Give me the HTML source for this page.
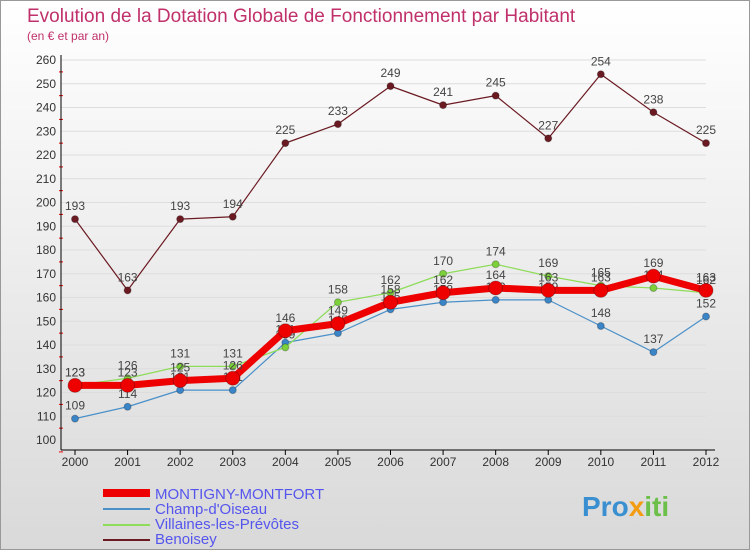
<!DOCTYPE html>
<html><head><meta charset="utf-8"><style>
body{margin:0;width:750px;height:550px;overflow:hidden;font-family:"Liberation Sans",sans-serif}
svg{display:block}
</style></head><body>
<svg id="c" width="750" height="550">
<defs><linearGradient id="bg" x1="0" y1="0" x2="0" y2="1"><stop offset="0" stop-color="#ffffff"/><stop offset="1" stop-color="#d9d9d9"/></linearGradient></defs>
<rect x="0.5" y="0.5" width="749" height="549" fill="url(#bg)" stroke="#999"/>
<text x="27" y="22" font-size="19" fill="#c0306a">Evolution de la Dotation Globale de Fonctionnement par Habitant</text>
<text x="27" y="40" font-size="12" fill="#c0306a">(en € et par an)</text>
<g id="axes"></g><g id="series"></g>
<g>
<line x1="103" y1="493" x2="150" y2="493" stroke="#ee0000" stroke-width="8"/>
<text x="155" y="499" font-size="15" fill="#5555ee">MONTIGNY-MONTFORT</text>
<line x1="103" y1="509" x2="150" y2="509" stroke="#4a90c8" stroke-width="2"/>
<text x="155" y="514" font-size="15" fill="#5555ee">Champ-d'Oiseau</text>
<line x1="103" y1="525" x2="150" y2="525" stroke="#8edc5a" stroke-width="2"/>
<text x="155" y="529" font-size="15" fill="#5555ee">Villaines-les-Prévôtes</text>
<line x1="103" y1="540" x2="150" y2="540" stroke="#6b1a22" stroke-width="2"/>
<text x="155" y="544" font-size="15" fill="#5555ee">Benoisey</text>
</g>
<text x="582" y="516" font-size="28" font-weight="bold" fill="#3a8fd0">Pro<tspan fill="#f39c12">x</tspan><tspan fill="#6cc04a">iti</tspan></text>
</svg>
<script>
const years=[2000,2001,2002,2003,2004,2005,2006,2007,2008,2009,2010,2011,2012];
const montigny=[123,123,125,126,146,149,158,162,164,163,163,169,163];
const champ=[109,114,121,121,141,145,155,158,159,159,148,137,152];
const villaines=[123,126,131,131,139,158,162,170,174,169,165,164,162];
const benoisey=[193,163,193,194,225,233,249,241,245,227,254,238,225];
const yTicks=[100,110,120,130,140,150,160,170,180,190,200,210,220,230,240,250,260];
const NS="http://www.w3.org/2000/svg";
const X=i=>75+i*(706-75)/(years.length-1);
const Y=v=>440-(v-100)*(380/160);
function mk(t,a,p){const e=document.createElementNS(NS,t);for(const k in a)e.setAttribute(k,a[k]);p.appendChild(e);return e;}
const ax=document.getElementById('axes');
for(const t of yTicks){const y=Y(t);
 const l=mk('line',{x1:61,x2:706,y1:y,y2:y,stroke:'#dddddd'},ax);
 
 
 const tx=mk('text',{x:56,y:y+4,'font-size':12,fill:'#333','text-anchor':'end'},ax);tx.textContent=t;
 
 
 const m=mk('line',{x1:59,x2:63,y1:y+11.9,y2:y+11.9,stroke:'#e00'},ax);
}
mk('line',{x1:61,x2:61,y1:55,y2:450,stroke:'#000'},ax);
mk('line',{x1:61,x2:715,y1:450,y2:450,stroke:'#000'},ax);
years.forEach((yr,i)=>{const x=X(i);
 mk('line',{x1:x,x2:x,y1:450,y2:455,stroke:'#000'},ax);
 const t=mk('text',{x:x,y:466,'font-size':12,fill:'#333','text-anchor':'middle'},ax);t.textContent=yr;
 
 
});
const sg=document.getElementById('series');
function draw(name,vals,color,w,r,mfill){
 const g=mk('g',{},sg);
 
 
 mk('polyline',{points:vals.map((v,i)=>X(i)+','+Y(v)).join(' '),fill:'none',stroke:color,'stroke-width':w,'stroke-linejoin':'round'},g);
 vals.forEach((v,i)=>{
  const c=mk('circle',{cx:X(i),cy:Y(v),r:r,fill:mfill,stroke:'rgba(0,0,0,0.25)'},g);
  
  
  const t=mk('text',{x:X(i),y:Y(v)-9,'font-size':12,fill:'#444','text-anchor':'middle'},g);t.textContent=v;
 });
}
draw('series-benoisey',benoisey,'#6b1a22',1.2,3.5,'#6b1a22');
draw('series-champ',champ,'#4a90c8',1.2,3.5,'#3a85c8');
draw('series-villaines',villaines,'#8edc5a',1.2,3.5,'#7cd03a');
draw('series-montigny',montigny,'#ee0000',7,7,'#ee0000');
</script>
</body></html>
